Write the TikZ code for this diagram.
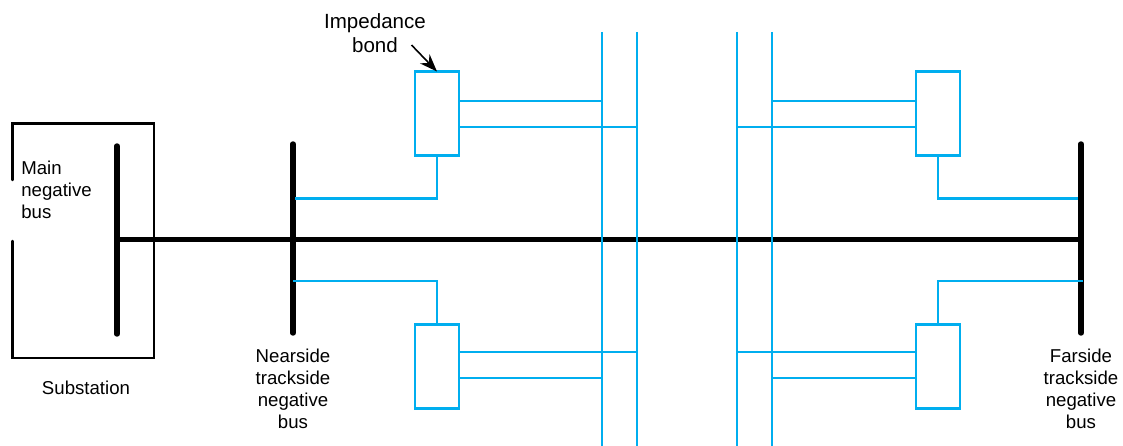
\documentclass[tikz,border=0pt]{standalone}
\usepackage{fontspec}
\setmainfont{Liberation Sans}
\usepackage{tikz}
\usetikzlibrary{
  positioning,
  calc,
  arrows.meta
}
\definecolor{trackblue}{HTML}{00AEEF}
\tikzstyle{bus}=[line width=3.1pt, line cap=round]
\tikzstyle{wall}=[line width=1.4pt, line cap=round]
\tikzstyle{track}=[trackblue, line width=1.2pt]
\tikzstyle{link}=[trackblue, line width=1.2pt]
\tikzstyle{stub}=[trackblue, line width=1.3pt]
\tikzstyle{bond}=[draw=trackblue, line width=1.4pt, minimum width=0.88cm, minimum height=1.68cm, inner sep=0pt, outer sep=0pt]
\tikzstyle{label}=[align=center, inner sep=0pt, font=\fontsize{10.6}{12.5}\selectfont]

\begin{document}
\begin{tikzpicture}[x=0.02cm, y=-0.02cm]
        \useasboundingbox (0,0) rectangle (1123,446);
        \def\ytop{32};
        \def\ybot{446};
        \def\yup{198.5};
        \def\ydown{281};

        % frequently used points
        \coordinate (MainT) at (117,146);
        \coordinate (MainB) at (117,334);
        \coordinate (NearT) at (293,144);
        \coordinate (NearB) at (293,333);
        \coordinate (FarT) at (1081,144);
        \coordinate (FarB) at (1081,333);
        \coordinate (Feed) at (117,239.5);
        \coordinate (FeedEnd) at (1081,239.5);
        \coordinate (TrackA) at (602,\ytop);
        \coordinate (TrackB) at (637,\ytop);
        \coordinate (TrackC) at (737,\ytop);
        \coordinate (TrackD) at (772,\ytop);

        % substation
        \draw[wall] (12.5,180) -- (12.5,123.5) -- (154,123.5) -- (154,358) -- (12.5,358) -- (12.5,241);
        \node (Sub) at (86,388) [label]{Substation};
        \node (MainLabel) at (21,190) [label, right, align=left]{Main\\negative\\bus};

        % negative buses
        \draw[bus] (MainT) -- (MainB);
        \draw[bus] (NearT) -- (NearB);
        \draw[bus] (FarT) -- (FarB);
        \draw[bus, line cap=butt, line width=3.4pt] (Feed) -- (FeedEnd);
        \node (NearLabel) at (293,389) [label]{Nearside\\trackside\\negative\\bus};
        \node (FarLabel) at (1081,389) [label]{Farside\\trackside\\negative\\bus};

        % tracks
        \draw[track] (TrackA) -- (TrackA |- 0,\ybot);
        \draw[track] (TrackB) -- (TrackB |- 0,\ybot);
        \draw[track] (TrackC) -- (TrackC |- 0,\ybot);
        \draw[track] (TrackD) -- (TrackD |- 0,\ybot);

        % impedance bonds
        \node (BondNT) at (437,113.5) [bond]{};
        \node (BondNB) at (437,366.5) [bond]{};
        \node (BondFT) at (938,113.5) [bond]{};
        \node (BondFB) at (938,366.5) [bond]{};

        % bond to track
        \draw[link] (BondNT.east |- 0,101) -- (TrackA |- 0,101);
        \draw[link] (BondNT.east |- 0,127) -- (TrackB |- 0,127);
        \draw[link] (BondNB.east |- 0,352) -- (TrackB |- 0,352);
        \draw[link] (BondNB.east |- 0,378) -- (TrackA |- 0,378);
        \draw[link] (BondFT.west |- 0,101) -- (TrackD |- 0,101);
        \draw[link] (BondFT.west |- 0,127) -- (TrackC |- 0,127);
        \draw[link] (BondFB.west |- 0,352) -- (TrackC |- 0,352);
        \draw[link] (BondFB.west |- 0,378) -- (TrackD |- 0,378);

        % bond to bus
        \draw[stub, line width=1.6pt] (BondNT.south) |- ($(NearT |- 0,\yup)+(2,0)$);
        \draw[stub, line width=1.2pt] (BondNB.north) |- (NearT |- 0,\ydown);
        \draw[stub, line width=1.6pt] (BondFT.south) |- ($(FarT |- 0,\yup)+(-3,0)$);
        \draw[stub, line width=1.2pt] (BondFB.north) |- ($(FarT |- 0,\ydown)+(2,0)$);

        % label of the bond
        \node (BondLabel) at (375,33.5) [label, font=\fontsize{11.7}{13.6}\selectfont]{Impedance\\bond};
        \coordinate (BondTip) at (BondNT.north);
        \draw[-{Stealth[length=10pt, width=7.5pt]}, line width=0.9pt] (411.5,45) -- (BondTip);
\end{tikzpicture}
\end{document}
